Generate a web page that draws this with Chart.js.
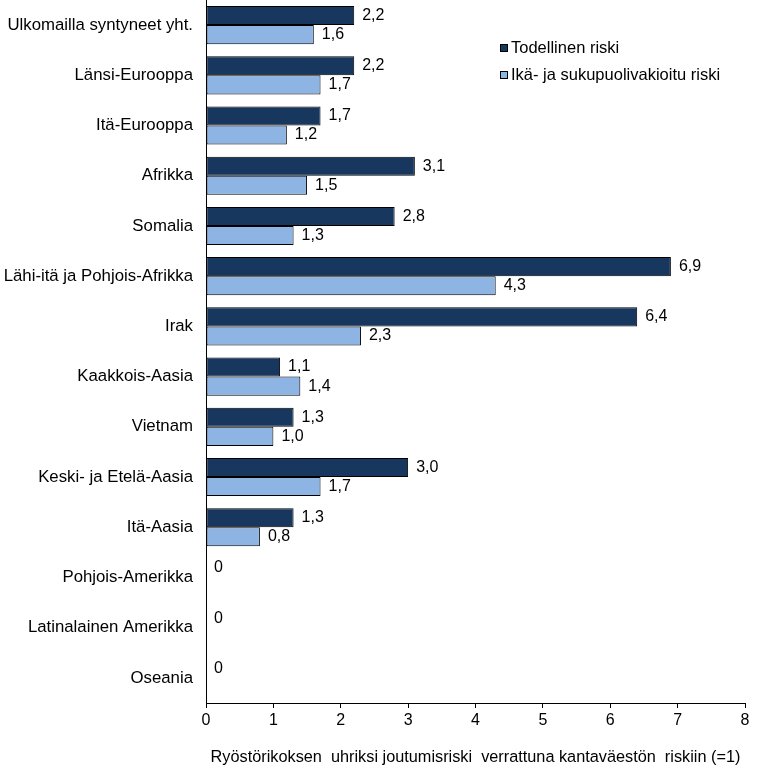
<!DOCTYPE html>
<html><head><meta charset="utf-8">
<script src="https://cdn.jsdelivr.net/npm/chart.js@4/dist/chart.umd.min.js"></script>
<style>html,body{margin:0;padding:0;background:#fff}#wrap{width:762px;height:771px}</style>
</head><body><div id="wrap"><canvas id="c" width="762" height="771"></canvas></div>
<script>
const categories = ["Ulkomailla syntyneet yht.","Länsi-Eurooppa","Itä-Eurooppa","Afrikka","Somalia","Lähi-itä ja Pohjois-Afrikka","Irak","Kaakkois-Aasia","Vietnam","Keski- ja Etelä-Aasia","Itä-Aasia","Pohjois-Amerikka","Latinalainen Amerikka","Oseania"];
const actualRisk = [2.2,2.2,1.7,3.1,2.8,6.9,6.4,1.1,1.3,3.0,1.3,0,0,0];
const adjustedRisk = [1.6,1.7,1.2,1.5,1.3,4.3,2.3,1.4,1.0,1.7,0.8,null,null,null];
const seriesNames = ["Todellinen riski","Ikä- ja sukupuolivakioitu riski"];
const xTicks = [0,1,2,3,4,5,6,7,8];
const xTitle = "Ryöstörikoksen  uhriksi joutumisriski  verrattuna kantaväestön  riskiin (=1)";

const FONT = "'Liberation Sans', Arial, sans-serif";
const colors = ['#17375E', '#8EB4E3'];

const labelPlugin = {
  id: 'vals',
  afterDatasetsDraw(chart) {
    const ctx = chart.ctx;
    ctx.save();
    ctx.font = '16px ' + FONT;
    ctx.fillStyle = '#000';
    ctx.textBaseline = 'middle';
    ctx.textAlign = 'left';
    chart.data.datasets.forEach((ds, di) => {
      const meta = chart.getDatasetMeta(di);
      meta.data.forEach((bar, i) => {
        const v = ds.data[i];
        if (v === null || v === undefined) return;
        const txt = v === 0 ? '0' : v.toFixed(1).replace('.', ',');
        ctx.fillText(txt, bar.x + 8, bar.y);
      });
    });
    ctx.restore();
  }
};

const legendPlugin = {
  id: 'customLegend',
  afterDraw(chart) {
    const ctx = chart.ctx;
    ctx.save();
    ctx.font = '16.5px ' + FONT;
    ctx.textBaseline = 'middle';
    ctx.textAlign = 'left';
    const rows = [48, 75];
    chart.data.datasets.forEach((ds, i) => {
      const y = rows[i];
      ctx.fillStyle = ds.backgroundColor;
      ctx.fillRect(500.5, y - 3.5, 7, 7);
      ctx.strokeStyle = '#000';
      ctx.lineWidth = 1;
      ctx.strokeRect(500.5, y - 3.5, 7, 7);
      ctx.fillStyle = '#000';
      ctx.fillText(ds.label, 511, y);
    });
    ctx.restore();
  }
};

const bg = {
  id: 'bg',
  beforeDraw(chart) {
    const ctx = chart.ctx;
    ctx.save();
    ctx.fillStyle = '#fff';
    ctx.fillRect(0, 0, chart.width, chart.height);
    ctx.restore();
  }
};

new Chart(document.getElementById('c'), {
  type: 'bar',
  data: {
    labels: categories,
    datasets: [
      { label: seriesNames[0], data: actualRisk, backgroundColor: colors[0], borderColor: '#000', borderWidth: 1, borderSkipped: false, categoryPercentage: 0.76, barPercentage: 1.0 },
      { label: seriesNames[1], data: adjustedRisk, backgroundColor: colors[1], borderColor: '#000', borderWidth: 1, borderSkipped: false, categoryPercentage: 0.76, barPercentage: 1.0 }
    ]
  },
  options: {
    indexAxis: 'y',
    responsive: false,
    animation: false,
    devicePixelRatio: 1,
    layout: { padding: { left: 0, right: 17, top: 0, bottom: 4 } },
    plugins: { legend: { display: false }, tooltip: { enabled: false } },
    scales: {
      x: {
        min: 0, max: 8,
        afterBuildTicks(scale) { scale.ticks = xTicks.map(v => ({ value: v })); },
        grid: { display: true, drawOnChartArea: false, drawTicks: true, tickLength: 5, color: '#000' },
        border: { display: true, color: '#000', width: 1 },
        ticks: { color: '#000', font: { family: FONT, size: 16 }, padding: 3, maxRotation: 0 },
        title: { display: true, text: xTitle, color: '#000', font: { family: FONT, size: 16.3 }, padding: { top: 11, bottom: 0 } },
        afterFit(scale) { scale.height = 64; scale.paddingLeft = 0; scale.paddingRight = 0; }
      },
      y: {
        grid: { display: false, drawTicks: false },
        border: { display: true, color: '#000', width: 1 },
        ticks: { color: '#000', font: { family: FONT, size: 16.8 }, padding: 13, autoSkip: false },
        afterFit(scale) { scale.width = 206; scale.paddingTop = 0; scale.paddingBottom = 0; }
      }
    }
  },
  plugins: [bg, labelPlugin, legendPlugin]
});
</script>
</body></html>
